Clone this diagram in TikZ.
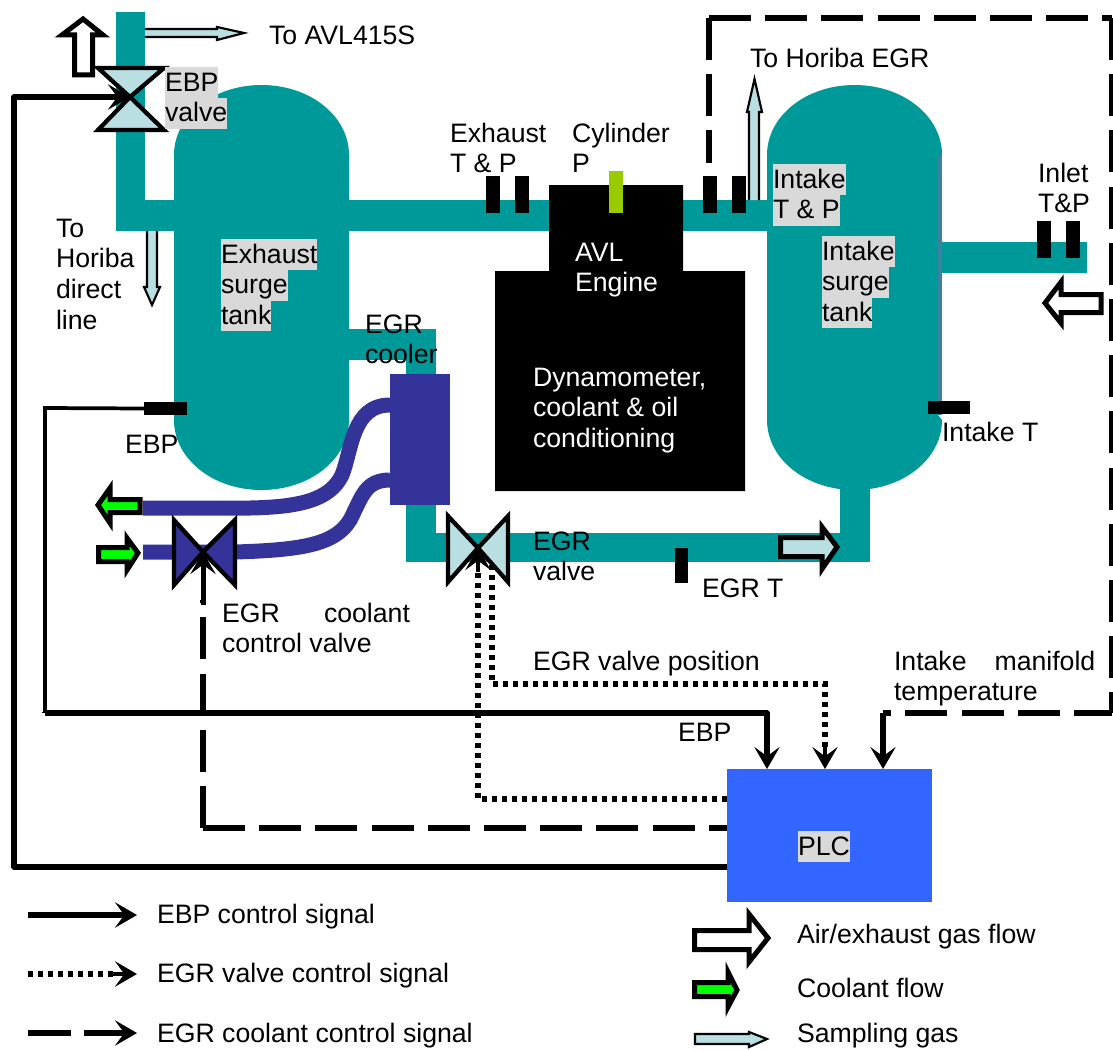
\documentclass[tikz,border=0pt]{standalone}
\usepackage{fontspec}
\setmainfont{Liberation Sans}
\usetikzlibrary{arrows.meta}
\definecolor{teal1}{HTML}{009999}
\definecolor{cool}{HTML}{333399}
\definecolor{lightb}{HTML}{B9DFE3}
\definecolor{hlgray}{HTML}{D9D9D9}
\definecolor{plcblue}{HTML}{3366FF}
\definecolor{lime1}{HTML}{99CC00}
\definecolor{green1}{HTML}{00FF00}
\definecolor{sliver}{HTML}{3F7F9F}
\newcommand{\tl}[1]{\rule{0pt}{17.7pt}\rule[-5.3pt]{0pt}{5.3pt}#1}
\newcommand{\hl}[1]{{\fboxsep=0pt\colorbox{hlgray}{\tl{#1}}}}
\tikzset{
  lab/.style={anchor=north west,inner sep=0pt,outer sep=0pt,align=left,font=\fontsize{20}{23}\selectfont},
  sensV/.style={fill=black,inner sep=0pt,minimum width=10.5pt,minimum height=27.75pt},
  sensH/.style={fill=black,inner sep=0pt,minimum width=32pt,minimum height=9.75pt},
  tip/.tip={Stealth[length=16.5pt,width=19pt,inset=7pt]},
  sig/.style={line width=4.1pt,line join=round,-{tip}},
  sigplain/.style={line width=4.1pt,line join=round},
  dots/.style={line width=4.1pt,dash pattern=on 3.75pt off 3.75pt,line join=miter},
  longd/.style={line width=4.1pt,dash pattern=on 31.5pt off 10.65pt,line join=round},
  flowW/.style={draw=black,line width=3.75pt,fill=white,line join=miter},
  flowG/.style={draw=black,line width=3.75pt,fill=green1,line join=miter},
  flowL/.style={draw=black,line width=3.75pt,fill=lightb,line join=miter},
  samp/.style={draw=black,line width=1.6pt,fill=lightb,line join=miter},
  valveL/.style={draw=black,line width=3.2pt,fill=lightb,line join=miter},
  valveC/.style={draw=black,line width=3.2pt,fill=cool,line join=miter},
  tube/.style={draw=cool,line width=11.25pt},
}
\begin{document}
\begin{tikzpicture}[x=0.75pt,y=-0.75pt]
\useasboundingbox (0,0) rectangle (1113,1049);
% pipes
\fill[teal1] (116,12) rectangle (145,231);
\fill[teal1] (116,200) rectangle (560,231);
\fill[teal1] (675,200) rectangle (780,231);
\fill[teal1] (930,242) rectangle (1087,273);
\fill[teal1] (340,329) rectangle (436,360);
\fill[teal1] (406,329) rectangle (436,562);
\fill[teal1] (406,533) rectangle (870,562);
\fill[teal1] (840,480) rectangle (870,562);
% tanks
\fill[teal1] (174,155) .. controls (174,116) and (213,85) .. (261.5,85) .. controls (310,85) and (349,116) .. (349,155) -- (349,420) .. controls (349,459) and (310,490) .. (261.5,490) .. controls (213,490) and (174,459) .. (174,420) -- cycle;
\fill[sliver] (937.5,149) rectangle (942,415);
\fill[teal1] (767,155) .. controls (767,116) and (806,85) .. (854.5,85) .. controls (903,85) and (942,116) .. (942,155) -- (938,155) -- (938,415) -- (942,420) .. controls (942,459) and (903,490) .. (854.5,490) .. controls (806,490) and (767,459) .. (767,420) -- cycle;
\fill[teal1] (942,242) rectangle (1087,273);
% engine
\fill[black] (549,185) -- (683,185) -- (683,271) -- (745,271) -- (745,491) -- (495,491) -- (495,271) -- (549,271) -- cycle;
% coolant tubes
\draw[tube] (143,508) -- (250,508) .. controls (300,507) and (330,500) .. (342,475) .. controls (352,450) and (352,405) .. (390,405);
\draw[tube] (143,552) -- (235,552) .. controls (300,550) and (335,545) .. (350,520) .. controls (362,497) and (365,480) .. (390,480);
\node[fill=cool,inner sep=0pt,minimum width=45pt,minimum height=98.25pt] (cooler) at (420,439.5) {};
% sensors
\node[sensV] (sE1) at (492.5,194.5) {};
\node[sensV] (sE2) at (522,194.5) {};
\node[fill=lime1,inner sep=0pt,minimum width=10.5pt,minimum height=31.5pt] (sC) at (616,192) {};
\node[sensV] (sI1) at (710,194.5) {};
\node[sensV] (sI2) at (739,194.5) {};
\node[sensV] (sN1) at (1044,239.5) {};
\node[sensV] (sN2) at (1072.5,239.5) {};
\node[sensH] (sEBP) at (165.5,408.5) {};
\node[sensH] (sIT) at (949,407.5) {};
\node[fill=black,inner sep=0pt,minimum width=9.75pt,minimum height=26.25pt] (sEGRT) at (681.5,565.5) {};
\node[fill=plcblue,inner sep=0pt,minimum width=153.75pt,minimum height=99.75pt] (plc) at (829.5,835.5) {};
% valves
\draw[valveL] (98,68) -- (164,68) -- (130,97) -- (164,130) -- (98,130) -- (130,97) -- cycle;
\coordinate (vE) at (130,97);
\draw[valveL] (448,516) -- (478,548) -- (508,516) -- (508,582) -- (478,548) -- (448,582) -- cycle;
\coordinate (vG) at (478,548);
\draw[valveC] (174,520) -- (203,552) -- (235,520) -- (235,585) -- (203,552) -- (174,585) -- cycle;
\coordinate (vC) at (203,552);
% sampling and flow arrows
\draw[flowW] (74.5,75) -- (74.5,35) -- (62,35) -- (83,19) -- (103,35) -- (92.5,35) -- (92.5,75) -- cycle;
\draw[samp] (145,29) -- (217,29) -- (217,27) -- (244,33) -- (217,40) -- (217,37) -- (145,37);
\draw[samp] (147,231) -- (147,287) -- (144,287) -- (152,305) -- (160,287) -- (157,287) -- (157,231);
\draw[samp] (749,200) -- (749,112) -- (747,112) -- (754.5,79) -- (762,112) -- (759,112) -- (759,200);
\draw[flowW] (1101,294.5) -- (1061,294.5) -- (1061,282) -- (1045,303) -- (1061,323) -- (1061,312.5) -- (1101,312.5) -- cycle;
\draw[flowL] (780.5,537.5) -- (822,537.5) -- (822,527) -- (837,547) -- (822,569) -- (822,556.5) -- (780.5,556.5) -- cycle;
\draw[flowG] (140,499.5) -- (110,499.5) -- (110,488) -- (98,505) -- (110,523) -- (110,512.5) -- (140,512.5) -- cycle;
\draw[flowG] (98.5,547.5) -- (127,547.5) -- (127,538) -- (138,553) -- (127,570) -- (127,561.5) -- (98.5,561.5) -- cycle;
% control connectors
\coordinate (e1) at (45,408);
\coordinate (e2) at (45,713);
\coordinate (e3) at (767,713);
\coordinate (e4) at (767,769);
\draw[line width=2.8pt] (sEBP.west) -- (e1) -- (45,712);
\draw[sig] (e2) -- (e3) -- (e4);
\draw[sigplain] (45,712) -- (e2);
\coordinate (pE) at (727,867);
\coordinate (c1) at (14,867);
\coordinate (c2) at (14,97);
\draw[sig] (pE) -- (c1) -- (c2) -- (vE);
\coordinate (pD) at (727,799);
\coordinate (d1) at (478,799);
\draw[dots] (pD) -- (d1) -- (478,572);
\draw[-{tip},line width=3pt] (478,572) -- (vG);
\coordinate (g0) at (492,565);
\coordinate (g1) at (492,684);
\coordinate (g2) at (825,684);
\coordinate (g3) at (825,769);
\draw[dots] (g0) -- (g1) -- (g2) -- (825,750);
\draw[-{tip},line width=3pt] (825,745) -- (g3);
\coordinate (pC) at (727,828);
\coordinate (k1) at (203,828);
\draw[longd] (k1) -- (pC);
\draw[longd] (k1) -- (203,600);
\draw[-{tip},line width=3.75pt] (203,605) -- (vC);
\coordinate (i0) at (709,163);
\coordinate (i1) at (709,18);
\coordinate (i2) at (1112,18);
\coordinate (i3) at (1112,713);
\coordinate (i4) at (883,713);
\coordinate (i5) at (883,769);
\draw[longd,dash phase=6.75pt] (i0) -- (i1);
\draw[longd] (i1) -- (i2);
\draw[longd] (i2) -- (i3);
\draw[longd,dash phase=3pt] (i3) -- (i4);
\draw[sig] (i4) -- (i5);
% text
\node[lab] (t1) at (269,21.4) {\tl{To AVL415S}};
\node[lab] (t2) at (165,67.4) {\hl{EBP}\\\hl{valve}};
\node[lab] (t3) at (450,118.4) {\tl{Exhaust}\\\tl{T \& P}};
\node[lab] (t4) at (572,118.4) {\tl{Cylinder}\\\tl{P}};
\node[lab] (t5) at (750,44.4) {\tl{To Horiba EGR}};
\node[lab] (t6) at (773,164.4) {\hl{Intake}\\\hl{T \& P}};
\node[lab] (t7) at (1038,158.4) {\tl{Inlet}\\\tl{T\&P}};
\node[lab] (t8) at (822,236.4) {\hl{Intake}\\\hl{surge}\\\hl{tank}};
\node[lab] (t9) at (221,239.4) {\hl{Exhaust}\\\hl{surge}\\\hl{tank}};
\node[lab] (t10) at (56,213.4) {\tl{To}\\\tl{Horiba}\\\tl{direct}\\\tl{line}};
\node[lab] (t11) at (365,309.4) {\tl{EGR}\\\tl{cooler}};
\node[lab,text=white] (t12) at (575,237.4) {\tl{AVL}\\\tl{Engine}};
\node[lab,text=white] (t13) at (533,362.4) {\tl{Dynamometer,}\\\tl{coolant \& oil}\\\tl{conditioning}};
\node[lab] (t14) at (125,429.4) {\tl{EBP}};
\node[lab] (t15) at (942,417.4) {\tl{Intake T}};
\node[lab] (t16) at (533,526.4) {\tl{EGR}\\\tl{valve}};
\node[lab] (t17) at (702,573.4) {\tl{EGR T}};
\node[lab] (t18) at (222,598.4) {\tl{\hbox to 141pt{EGR\hfill coolant}}\\\tl{control valve}};
\node[lab] (t19) at (533,646.4) {\tl{EGR valve position}};
\node[lab] (t20) at (894,646.4) {\tl{\hbox to 151pt{Intake\hfill manifold}}\\\tl{temperature}};
\node[lab] (t21) at (678,717.4) {\tl{EBP}};
\node[lab] (t22) at (798,831.4) {\hl{PLC}};
% legend
\coordinate (a1) at (28,915); \coordinate (a2) at (137,915);
\coordinate (b1) at (28,974); \coordinate (b2) at (137,974);
\coordinate (c3) at (28,1033); \coordinate (c4) at (71,1033); \coordinate (c5) at (84,1033); \coordinate (c6) at (137,1033);
\draw[sig] (a1) -- (a2);
\draw[dots] (b1) -- (115,974);
\draw[-{tip},line width=3pt] (112,974) -- (b2);
\draw[sigplain] (c3) -- (c4);
\draw[sig] (c5) -- (c6);
\node[lab] at (157,899.4) {\tl{EBP control signal}};
\node[lab] at (157,958.4) {\tl{EGR valve control signal}};
\node[lab] at (157,1018.4) {\tl{EGR coolant control signal}};
\draw[flowW] (694.5,930.5) -- (749,930.5) -- (749,914) -- (768,938) -- (749,962) -- (749,949.5) -- (694.5,949.5) -- cycle;
\draw[flowG] (694.5,982.5) -- (728,982.5) -- (728,972) -- (737,990) -- (728,1007) -- (728,996.5) -- (694.5,996.5) -- cycle;
\draw[samp] (695,1034) -- (749,1034) -- (749,1032) -- (767,1039) -- (749,1047) -- (749,1044) -- (695,1044) -- cycle;
\node[lab] at (797,919.4) {\tl{Air/exhaust gas flow}};
\node[lab] at (797,973.4) {\tl{Coolant flow}};
\node[lab] at (797,1018.4) {\tl{Sampling gas}};
\end{tikzpicture}
\end{document}
